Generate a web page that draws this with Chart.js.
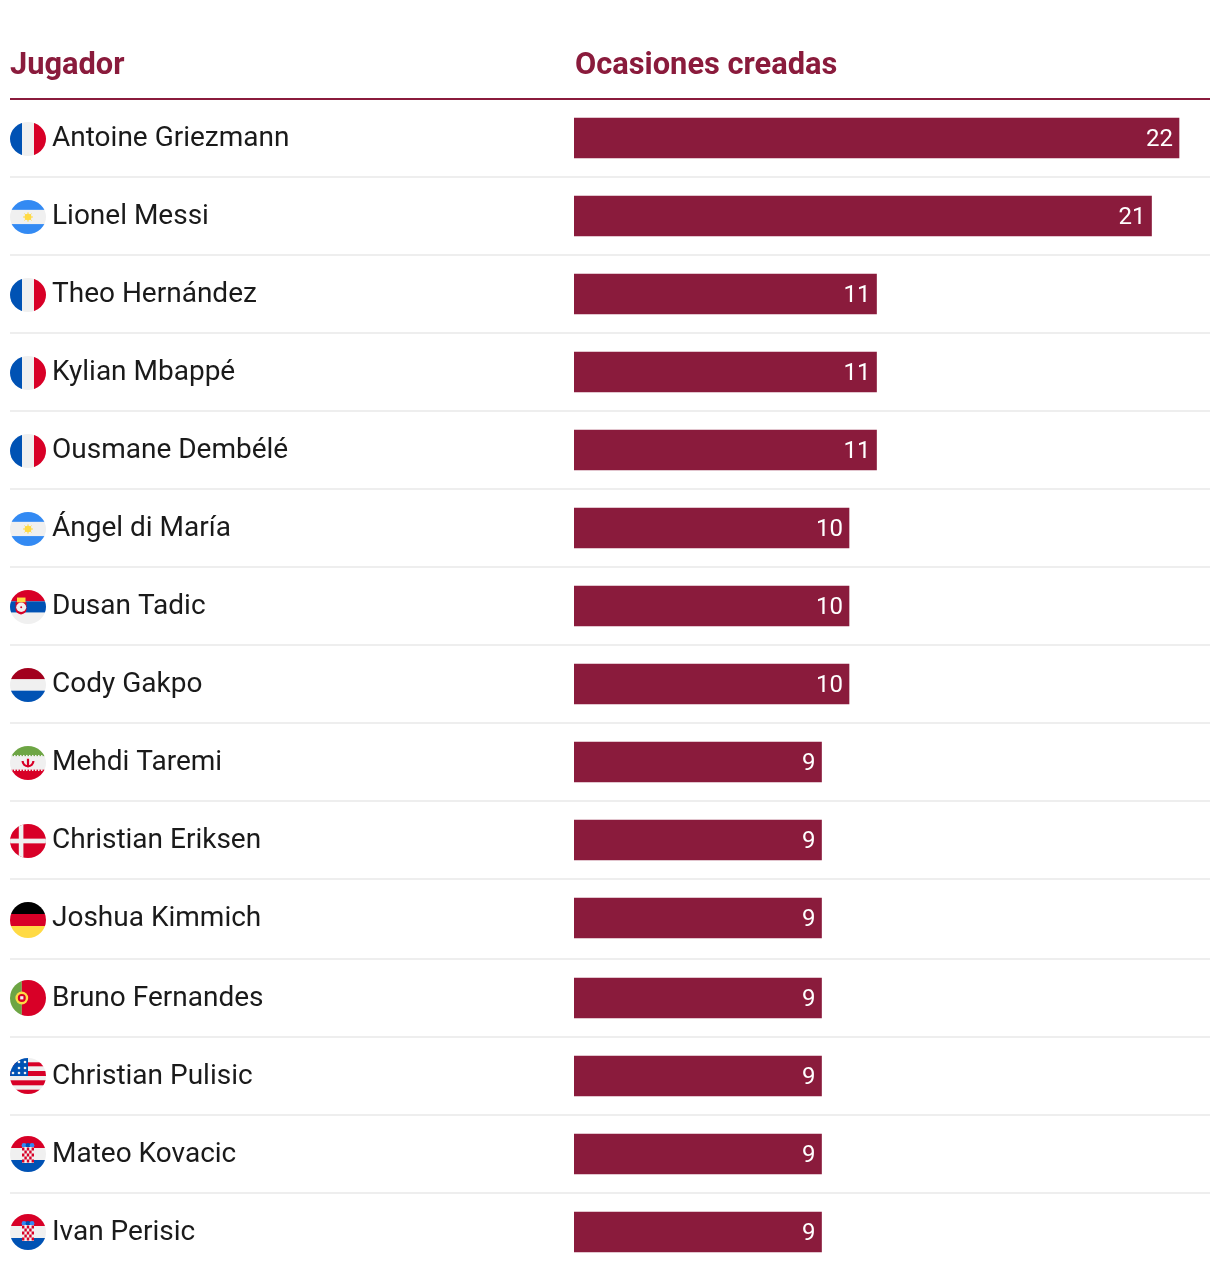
<!DOCTYPE html>
<html lang="es">
<head>
<meta charset="utf-8">
<title>Ocasiones creadas</title>
<script src="https://cdn.jsdelivr.net/npm/chart.js@4"></script>
<style>
    body { margin: 0; background: #fff; }
    #wrap { position: relative; width: 1220px; height: 1280px; overflow: hidden; }
    canvas { display: block; }
    .head {
        position: absolute; top: 44px;
        font: bold 30.8px/40px Roboto, sans-serif; color: #8a1b3c;
    }
</style>
</head>
<body>
<div id="wrap">
    <!-- a bit taller than the page: the last tick label claims 17px of margin under the plot -->
    <canvas id="chart" width="1220" height="1286"></canvas>
    <div class="head" style="left:10px">Jugador</div>
    <div class="head" style="left:575px">Ocasiones creadas</div>
</div>
<script>
const players = ['Antoine Griezmann', 'Lionel Messi', 'Theo Hernández', 'Kylian Mbappé', 'Ousmane Dembélé',
    'Ángel di María', 'Dusan Tadic', 'Cody Gakpo', 'Mehdi Taremi', 'Christian Eriksen', 'Joshua Kimmich',
    'Bruno Fernandes', 'Christian Pulisic', 'Mateo Kovacic', 'Ivan Perisic'];
const chances = [22, 21, 11, 11, 11, 10, 10, 10, 9, 9, 9, 9, 9, 9, 9];
const flags = ['fr', 'ar', 'fr', 'fr', 'fr', 'ar', 'rs', 'nl', 'ir', 'dk', 'de', 'pt', 'us', 'hr', 'hr'];

const MAROON = '#8a1b3c';
const RED = '#d80027', BLUE = '#0052b4', WHITE = '#f0f0f0', YELLOW = '#ffda44', SKY = '#338af3', GREEN = '#6da544';
// the row of Joshua Kimmich is taller in the original table
const TALL_ROW = 10;

function band(ctx, color, y0, y1) {
    ctx.fillStyle = color;
    ctx.fillRect(-18, y0, 36, y1 - y0);
}

function box(ctx, color, x0, y0, x1, y1) {
    ctx.fillStyle = color;
    ctx.fillRect(x0, y0, x1 - x0, y1 - y0);
}

function dot(ctx, color, x, y, r) {
    ctx.fillStyle = color;
    ctx.beginPath();
    ctx.arc(x, y, r, 0, Math.PI * 2);
    ctx.fill();
}

const flagPainters = {
    fr(ctx) {
        box(ctx, BLUE, -18, -18, -6, 18);
        box(ctx, WHITE, -6, -18, 6, 18);
        box(ctx, RED, 6, -18, 18, 18);
    },
    ar(ctx) {
        band(ctx, SKY, -18, -7.5);
        band(ctx, WHITE, -7.5, 7.5);
        band(ctx, SKY, 7.5, 18);
        ctx.strokeStyle = YELLOW;
        ctx.lineWidth = 1;
        for (let a = 0; a < 8; a++) {
            ctx.beginPath();
            ctx.moveTo(0, 0);
            ctx.lineTo(Math.cos(a * Math.PI / 4) * 5, Math.sin(a * Math.PI / 4) * 5);
            ctx.stroke();
        }
        dot(ctx, YELLOW, 0, 0, 3.4);
    },
    rs(ctx) {
        band(ctx, RED, -18, -6);
        band(ctx, BLUE, -6, 6);
        band(ctx, WHITE, 6, 18);
        ctx.fillStyle = RED;
        ctx.beginPath();
        ctx.moveTo(-12.5, -5.5);
        ctx.lineTo(-1.5, -5.5);
        ctx.lineTo(-1.5, 3);
        ctx.quadraticCurveTo(-2, 7, -7, 8);
        ctx.quadraticCurveTo(-12, 7, -12.5, 3);
        ctx.closePath();
        ctx.fill();
        box(ctx, YELLOW, -11, -10, -2.5, -5);
        dot(ctx, WHITE, -6.8, 0.3, 5);
        dot(ctx, RED, -6.8, 0.3, 1);
    },
    nl(ctx) {
        band(ctx, '#a2001d', -18, -6);
        band(ctx, WHITE, -6, 6);
        band(ctx, BLUE, 6, 18);
    },
    ir(ctx) {
        band(ctx, GREEN, -18, -7);
        band(ctx, WHITE, -7, 7);
        band(ctx, RED, 7, 18);
        for (let x = -17; x < 18; x += 3) {
            box(ctx, WHITE, x, -8.5, x + 1.5, -6.5);
            box(ctx, WHITE, x, 6.5, x + 1.5, 8.5);
        }
        ctx.strokeStyle = RED;
        ctx.lineWidth = 2.2;
        ctx.beginPath();
        ctx.arc(0, -2, 5.4, 0, Math.PI);
        ctx.stroke();
        box(ctx, RED, -1.1, -4.5, 1.1, 4.5);
    },
    dk(ctx) {
        band(ctx, RED, -18, 18);
        box(ctx, WHITE, -9.2, -18, -4.6, 18);
        band(ctx, WHITE, -2.5, 2.5);
    },
    de(ctx) {
        band(ctx, '#000000', -18, -6);
        band(ctx, RED, -6, 6);
        band(ctx, YELLOW, 6, 18);
    },
    pt(ctx) {
        box(ctx, GREEN, -18, -18, -6.2, 18);
        box(ctx, RED, -6.2, -18, 18, 18);
        dot(ctx, YELLOW, -6.2, 0, 6.4);
        dot(ctx, RED, -6.2, 0, 4);
        box(ctx, WHITE, -7.8, -1.8, -4.6, 1.4);
    },
    us(ctx) {
        band(ctx, WHITE, -18, 18);
        [[-13.7, -9.7], [-5, 0], [4.3, 9.3], [13.7, 18]].forEach(s => band(ctx, RED, s[0], s[1]));
        box(ctx, BLUE, -18, -18, 0, 0);
        [[-9, -14], [-3, -14], [-9, -8], [-3, -8], [-15, -3], [-9, -3], [-3, -3]].forEach(s => dot(ctx, WHITE, s[0], s[1], 1.3));
    },
    hr(ctx) {
        band(ctx, RED, -18, -6);
        band(ctx, WHITE, -6, 6);
        band(ctx, BLUE, 6, 18);
        dot(ctx, SKY, -4, -8.5, 2.4);
        dot(ctx, BLUE, 0, -8.5, 2.4);
        dot(ctx, SKY, 4, -8.5, 2.4);
        box(ctx, WHITE, -6, -7, 6, 9);
        for (let r = 0; r < 5; r++) {
            for (let c = 0; c < 5; c++) {
                if ((r + c) % 2 === 0) box(ctx, RED, -6 + c * 2.4, -6.5 + r * 3, -6 + (c + 1) * 2.4, -6.5 + (r + 1) * 3);
            }
        }
    }
};

// category scale that pushes the rows under the tall one down a little
class RowScale extends Chart.CategoryScale {
    getPixelForValue(value, index) {
        const v = index !== undefined ? index : value;
        return super.getPixelForValue(value, index) + (v > TALL_ROW ? 2 : 0);
    }
}
RowScale.id = 'rows';
RowScale.defaults = Chart.CategoryScale.defaults;
Chart.register(RowScale);

const tablePlugin = {
    id: 'table',
    beforeDraw(chart) {
        const ctx = chart.ctx, y = chart.scales.y;
        ctx.save();
        ctx.fillStyle = MAROON;
        ctx.fillRect(10, 98, 1200, 2);
        ctx.fillStyle = '#eeeeee';
        for (let i = 0; i < players.length - 1; i++) {
            let mid = (y.getPixelForValue(i) + y.getPixelForValue(i + 1)) / 2;
            if (i === TALL_ROW) mid += 1;
            ctx.fillRect(10, mid - 1, 1200, 2);
        }
        ctx.restore();
    },
    afterDatasetsDraw(chart) {
        const ctx = chart.ctx, y = chart.scales.y;
        const bars = chart.getDatasetMeta(0).data;
        ctx.save();
        ctx.font = '24px Roboto, sans-serif';
        ctx.fillStyle = '#ffffff';
        ctx.textAlign = 'right';
        ctx.textBaseline = 'middle';
        bars.forEach((bar, i) => ctx.fillText(chances[i], bar.x - 6, bar.y + 2));
        ctx.restore();

        flags.forEach((code, i) => {
            let cy = y.getPixelForValue(i), ry = 18;
            if (i < TALL_ROW) { cy += 1; ry = 17; }
            if (i === TALL_ROW) cy += 2;
            ctx.save();
            ctx.translate(28, cy);
            ctx.scale(1, ry / 18);
            ctx.beginPath();
            ctx.arc(0, 0, 18, 0, Math.PI * 2);
            ctx.clip();
            flagPainters[code](ctx);
            ctx.restore();
        });
    }
};

new Chart('chart', {
    type: 'bar',
    data: {
        labels: players,
        datasets: [{
            data: chances,
            backgroundColor: MAROON,
            borderWidth: 0,
            barThickness: 40
        }]
    },
    options: {
        indexAxis: 'y',
        responsive: false,
        animation: false,
        layout: { autoPadding: false, padding: { top: 99, bottom: 17, left: 52, right: 13.5 } },
        plugins: { legend: { display: false }, tooltip: { enabled: false } },
        scales: {
            x: { display: false, min: 0, max: 23 },
            y: {
                type: 'rows',
                grid: { display: false },
                border: { display: false },
                afterFit: (scale) => { scale.width = 522; },
                ticks: {
                    autoSkip: false,
                    crossAlign: 'far',
                    padding: 0,
                    labelOffset: 1,
                    color: '#1a1a1a',
                    font: { family: 'Roboto, sans-serif', size: 28 }
                }
            }
        }
    },
    plugins: [tablePlugin]
});
</script>
</body>
</html>
